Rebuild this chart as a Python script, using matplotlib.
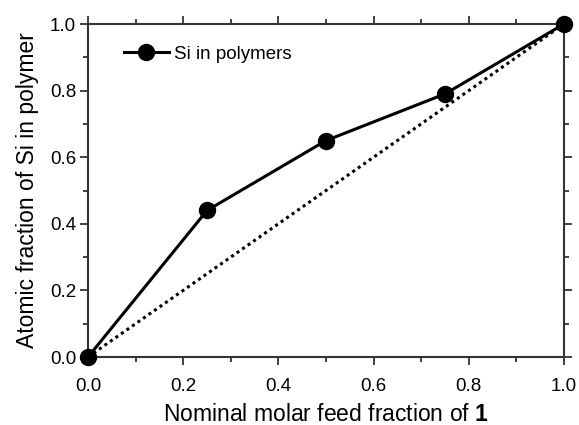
import numpy as np
import matplotlib
matplotlib.use("Agg")
from matplotlib import pyplot as plt
from matplotlib.ticker import MultipleLocator

plt.rcParams['font.family'] = ['Liberation Sans', 'DejaVu Sans']
plt.rcParams['mathtext.fontset'] = 'custom'
plt.rcParams['mathtext.rm'] = 'Liberation Sans'
plt.rcParams['mathtext.bf'] = 'Liberation Sans:bold'

feed = [0.0, 0.25, 0.5, 0.75, 1.0]
si_frac = [0.0, 0.44, 0.65, 0.79, 1.0]
ideal_x = [0.0, 1.0]
ideal_y = [0.0, 1.0]

fig = plt.figure(figsize=(5.79, 4.25), dpi=100)
ax = fig.add_axes([0.152, 0.16, 0.822, 0.7835])

ax.plot(ideal_x, ideal_y, ls=(0, (1, 1.2)), c="k", lw=2.2)
ax.plot(feed, si_frac, "-o", c="k", lw=2.2, ms=11.5, label="Si in polymers", clip_on=False, zorder=5)

ax.set_xlim(0, 1)
ax.set_ylim(0, 1)
for a in (ax.xaxis, ax.yaxis):
    a.set_major_locator(MultipleLocator(0.2))
    a.set_minor_locator(MultipleLocator(0.1))
ax.xaxis.set_major_formatter(lambda v, p: f"{v:.1f}")
ax.yaxis.set_major_formatter(lambda v, p: f"{v:.1f}")
ax.tick_params(which="both", direction="out", top=True, right=True, color="#333333", labelsize=13.5)
ax.tick_params(which="major", length=6, width=1.3)
ax.tick_params(which="minor", length=3.3, width=1.3)
ax.tick_params(axis="x", which="major", pad=9)
ax.tick_params(axis="y", which="major", pad=2.5)
for s in ax.spines.values():
    s.set_color("#333333")
    s.set_linewidth(1.5)

ax.set_xlabel(r"Nominal molar feed fraction of $\mathbf{1}$", fontsize=16.5, labelpad=6)
ax.set_ylabel("Atomic fraction of Si in polymer", fontsize=16.5, labelpad=8)

ax.legend(loc="upper left", frameon=False, fontsize=13.5, handlelength=2.4,
          handletextpad=0.25, bbox_to_anchor=(0.04, 0.985))

fig.savefig("out.png", dpi=100)
